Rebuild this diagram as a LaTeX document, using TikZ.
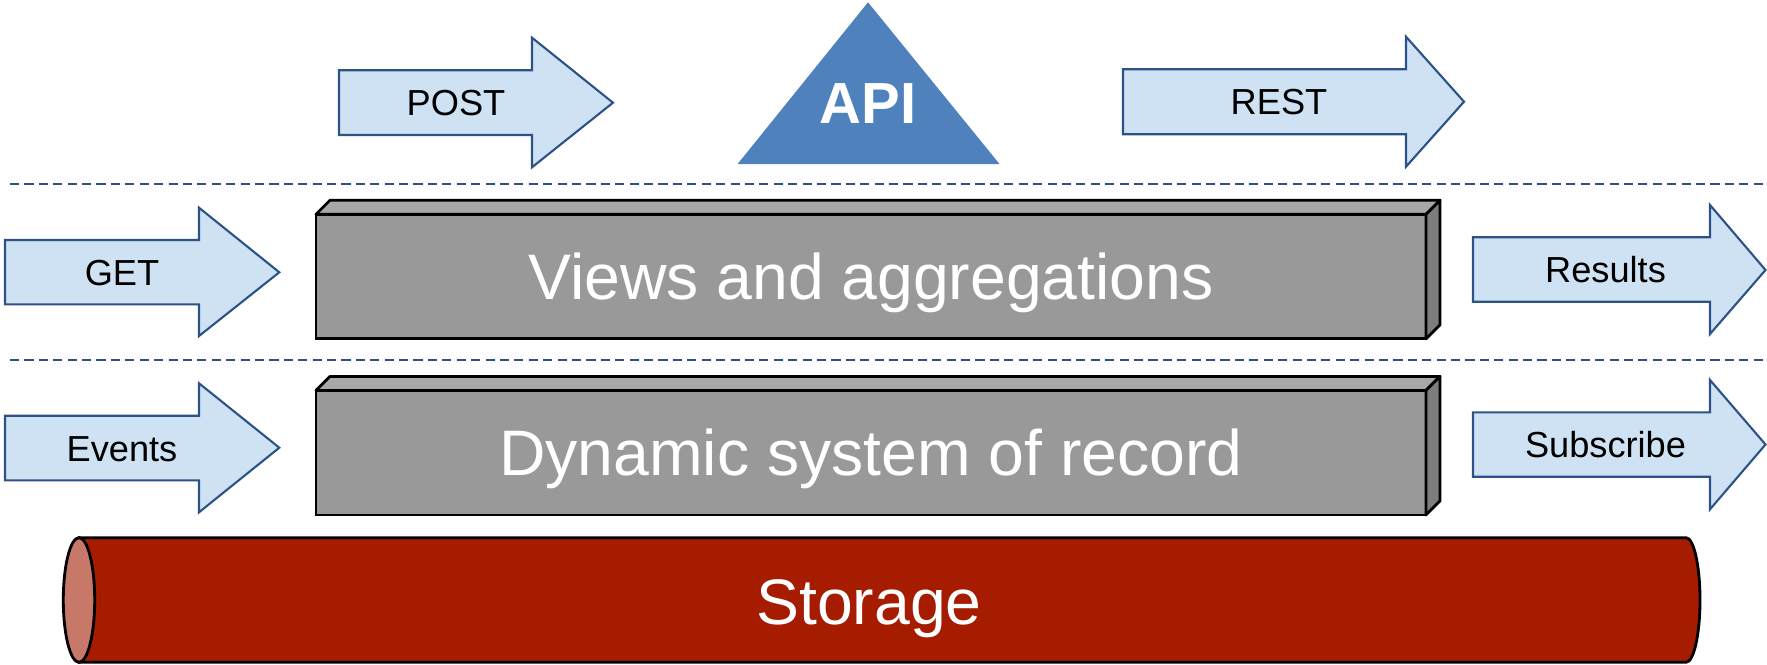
\documentclass[tikz,border=0pt]{standalone}
\usepackage{fontspec}
\setmainfont{Liberation Sans}

\definecolor{arrowfill}{HTML}{CFE2F3}
\definecolor{arrowline}{HTML}{2C5286}
\definecolor{apiblue}{HTML}{4F81BD}
\definecolor{layerfront}{HTML}{999999}
\definecolor{layertop}{HTML}{A8A8A8}
\definecolor{layerside}{HTML}{7D7D7D}
\definecolor{storered}{HTML}{A61C00}
\definecolor{storecap}{HTML}{C87869}

\begin{document}
\begin{tikzpicture}[
  every node/.style={font=\fontsize{10.3}{12}\selectfont},
  flow/.style={draw=arrowline, fill=arrowfill, line width=0.6pt},
  arrowtext/.style={text height=7.4pt, text depth=0pt, inner sep=0pt},
  layer/.style={draw=black, fill=layerfront, line width=0.8pt,
    minimum width=11.1cm, minimum height=1.245cm, inner sep=0pt, outer sep=0pt,
    text=white, font=\fontsize{18.3}{22}\selectfont, text height=13.1pt, text depth=0pt},
  face/.style={draw=black, line width=0.8pt, line join=round},
  sep/.style={draw=arrowline, line width=0.6pt, dash pattern=on 2.6pt off 1.5pt},
]
\useasboundingbox (0,0) rectangle (17.67,-6.64);

% API on top
\fill[apiblue] (8.68,-0.023) -- (9.995,-1.64) -- (7.376,-1.64) -- cycle;
\node[text=white, font=\bfseries\fontsize{16.5}{20}\selectfont,
  text height=11.8pt, text depth=0pt, inner sep=0pt] (api) at (8.68,-1.025) {API};

\draw[flow] (3.39,-0.703) -- (5.32,-0.703) -- (5.32,-0.377) -- (6.13,-1.027)
  -- (5.32,-1.673) -- (5.32,-1.35) -- (3.39,-1.35) -- cycle;
\node[arrowtext] (post) at (4.56,-1.027) {POST};

\draw[flow] (11.23,-0.693) -- (14.06,-0.693) -- (14.06,-0.367) -- (14.64,-1.017)
  -- (14.06,-1.667) -- (14.06,-1.343) -- (11.23,-1.343) -- cycle;
\node[arrowtext] (rest) at (12.79,-1.018) {REST};

\draw[sep] (0.10,-1.84) -- (17.67,-1.84);

% views layer
\node[layer] (views) at (8.71,-2.765) {Views and aggregations};
\draw[face, fill=layertop] (views.north west) -- ++(0.14,0.14) -- ++(11.1,0)
  -- (views.north east) -- cycle;
\draw[face, fill=layerside] (views.north east) -- ++(0.14,0.14) -- ++(0,-1.245)
  -- (views.south east) -- cycle;

\draw[flow] (0.05,-2.40) -- (1.99,-2.40) -- (1.99,-2.077) -- (2.793,-2.723)
  -- (1.99,-3.36) -- (1.99,-3.043) -- (0.05,-3.043) -- cycle;
\node[arrowtext] (get) at (1.22,-2.72) {GET};

\draw[flow] (14.73,-2.373) -- (17.10,-2.373) -- (17.10,-2.05) -- (17.655,-2.70)
  -- (17.10,-3.34) -- (17.10,-3.017) -- (14.73,-3.017) -- cycle;
\node[arrowtext] (results) at (16.055,-2.695) {Results};

\draw[sep] (0.10,-3.60) -- (17.67,-3.60);

% system of record layer
\node[layer] (record) at (8.71,-4.527) {Dynamic system of record};
\draw[face, fill=layertop] (record.north west) -- ++(0.14,0.14) -- ++(11.1,0)
  -- (record.north east) -- cycle;
\draw[face, fill=layerside] (record.north east) -- ++(0.14,0.14) -- ++(0,-1.245)
  -- (record.south east) -- cycle;

\draw[flow] (0.05,-4.157) -- (1.99,-4.157) -- (1.99,-3.833) -- (2.793,-4.477)
  -- (1.99,-5.123) -- (1.99,-4.803) -- (0.05,-4.803) -- cycle;
\node[arrowtext] (events) at (1.22,-4.48) {Events};

\draw[flow] (14.73,-4.123) -- (17.10,-4.123) -- (17.10,-3.80) -- (17.655,-4.445)
  -- (17.10,-5.093) -- (17.10,-4.767) -- (14.73,-4.767) -- cycle;
\node[arrowtext] (subscribe) at (16.055,-4.445) {Subscribe};

% storage cylinder
\draw[fill=storered, line width=0.8pt] (0.79,-5.377) -- (16.86,-5.377)
  arc[start angle=90, end angle=-90, x radius=0.14, y radius=0.623]
  -- (0.79,-6.623) -- cycle;
\draw[fill=storecap, line width=0.8pt] (0.79,-6.0) ellipse [x radius=0.157, y radius=0.623];
\node[text=white, font=\fontsize{18.3}{22}\selectfont, text height=13.1pt,
  text depth=0pt, inner sep=0pt] (store) at (8.69,-6.01) {Storage};
\end{tikzpicture}
\end{document}
